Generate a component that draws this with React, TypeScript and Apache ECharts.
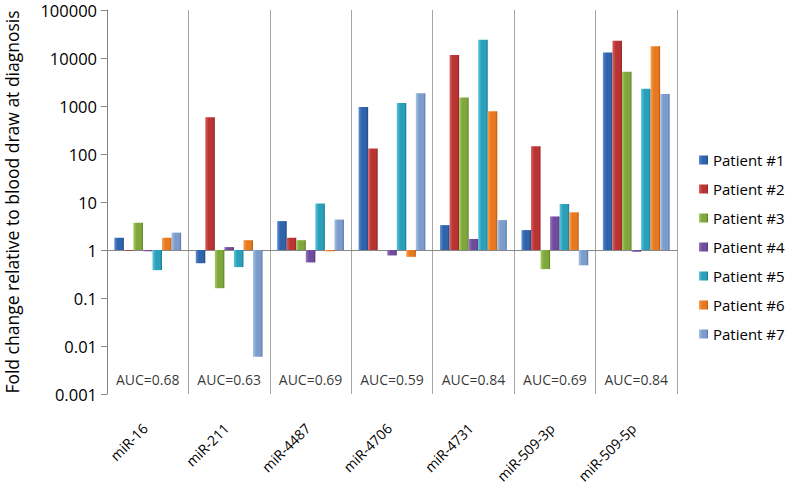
import React, { useEffect, useRef } from "react";
import * as echarts from "echarts";

const categories = ["miR-16", "miR-211", "miR-4487", "miR-4706", "miR-4731", "miR-509-3p", "miR-509-5p"];
const patients = ["Patient #1", "Patient #2", "Patient #3", "Patient #4", "Patient #5", "Patient #6", "Patient #7"];
const patient1 = [1.8, 0.53, 4.0, 950, 3.3, 2.6, 13000];
const patient2 = [0.96, 580, 1.8, 130, 11500, 145, 23000];
const patient3 = [3.7, 0.16, 1.6, 1, 1500, 0.4, 5200];
const patient4 = [0.94, 1.15, 0.55, 0.77, 1.7, 5.0, 0.92];
const patient5 = [0.38, 0.44, 9.3, 1150, 24000, 9.1, 2300];
const patient6 = [1.8, 1.6, 0.94, 0.72, 780, 6.1, 17500];
const patient7 = [2.3, 0.006, 4.3, 1850, 4.2, 0.48, 1780];
const aucLabels = ["AUC=0.68", "AUC=0.63", "AUC=0.69", "AUC=0.59", "AUC=0.84", "AUC=0.69", "AUC=0.84"];
const aucLevel = 0.002;
const yTickLabels = ["0.001", "0.01", "0.1", "1", "10", "100", "1000", "10000", "100000"];

const seriesValues = [patient1, patient2, patient3, patient4, patient5, patient6, patient7];
const palette = [
  ["#5A8FD6", "#2F63AA", "#1E4682"],
  ["#D96161", "#BA3434", "#8A2222"],
  ["#A6CB62", "#7FA73B", "#5B7D25"],
  ["#9677C0", "#6F4D9D", "#4F3574"],
  ["#5CC5DC", "#2BA0BB", "#1B788E"],
  ["#FA9F55", "#E9791F", "#B4580F"],
  ["#A8C2E6", "#7C9CCC", "#5874A3"],
];

const FONT = "Open Sans";

function grad(c: string[]) {
  return new echarts.graphic.LinearGradient(0, 0, 1, 0, [
    { offset: 0, color: c[0] },
    { offset: 0.35, color: c[1] },
    { offset: 0.8, color: c[1] },
    { offset: 1, color: c[2] },
  ]);
}

export default function App() {
  const ref = useRef<HTMLDivElement>(null);
  useEffect(() => {
    if (!ref.current) return;
    const chart = echarts.init(ref.current, undefined, { renderer: "svg" });
    const barSeries: any[] = seriesValues.map((vals, i) => ({
      name: patients[i],
      type: "bar",
      data: vals,
      barGap: "0%",
      barCategoryGap: "18%",
      itemStyle: { color: grad(palette[i]) },
      z: 3,
      ...(i === 0
        ? {
            markLine: {
              silent: true,
              symbol: "none",
              label: { show: false },
              lineStyle: { color: "#868686", width: 1, type: "solid" },
              data: [{ yAxis: 1 }],
              z: 1,
            },
          }
        : {}),
    }));
    const aucSeries = {
      name: "AUC",
      type: "scatter",
      symbolSize: 0,
      data: categories.map((c) => [c, aucLevel]),
      label: {
        show: true,
        position: "inside",
        formatter: (p: any) => aucLabels[p.dataIndex],
        color: "#000",
        fontFamily: FONT,
        fontSize: 14,
      },
      silent: true,
    };
    chart.setOption({
      animation: false,
      backgroundColor: "#ffffff",
      grid: { left: 107, right: 110, top: 10, bottom: 91, outerBoundsMode: "none", containLabel: false },
      legend: {
        data: patients,
        orient: "vertical",
        left: 694,
        top: 146,
        itemWidth: 9,
        itemHeight: 9,
        itemGap: 11,
        icon: "rect",
        textStyle: { fontFamily: FONT, fontSize: 15, color: "#000", lineHeight: 18 },
      },
      xAxis: {
        type: "category",
        data: categories,
        boundaryGap: true,
        axisLine: { show: false },
        axisTick: { show: false },
        splitLine: { show: true, lineStyle: { color: "#A6A6A6", width: 1 } },
        axisLabel: {
          rotate: 45,
          margin: 29,
          padding: [0, 4, 0, 0],
          interval: 0,
          color: "#000",
          fontFamily: FONT,
          fontSize: 14,
        },
      },
      yAxis: {
        type: "log",
        logBase: 10,
        min: 0.001,
        max: 100000,
        name: "Fold change relative to blood draw at diagnosis",
        nameLocation: "middle",
        nameGap: 86,
        nameTextStyle: { fontFamily: FONT, fontSize: 17.5, color: "#000" },
        axisLine: { show: true, lineStyle: { color: "#868686" } },
        axisTick: { show: true, length: 6, lineStyle: { color: "#868686" } },
        splitLine: { show: false },
        axisLabel: {
          margin: 10,
          color: "#000",
          fontFamily: FONT,
          fontSize: 16.5,
          lineHeight: 14,
          formatter: (v: number) => {
            const idx = Math.round(Math.log10(v)) + 3;
            return yTickLabels[idx] ?? "";
          },
        },
      },
      series: [...barSeries, aucSeries],
    });
    return () => chart.dispose();
  }, []);
  return (
    <div
      ref={ref}
      style={{ position: "absolute", left: 0, top: 0, width: 787, height: 485 }}
    />
  );
}
